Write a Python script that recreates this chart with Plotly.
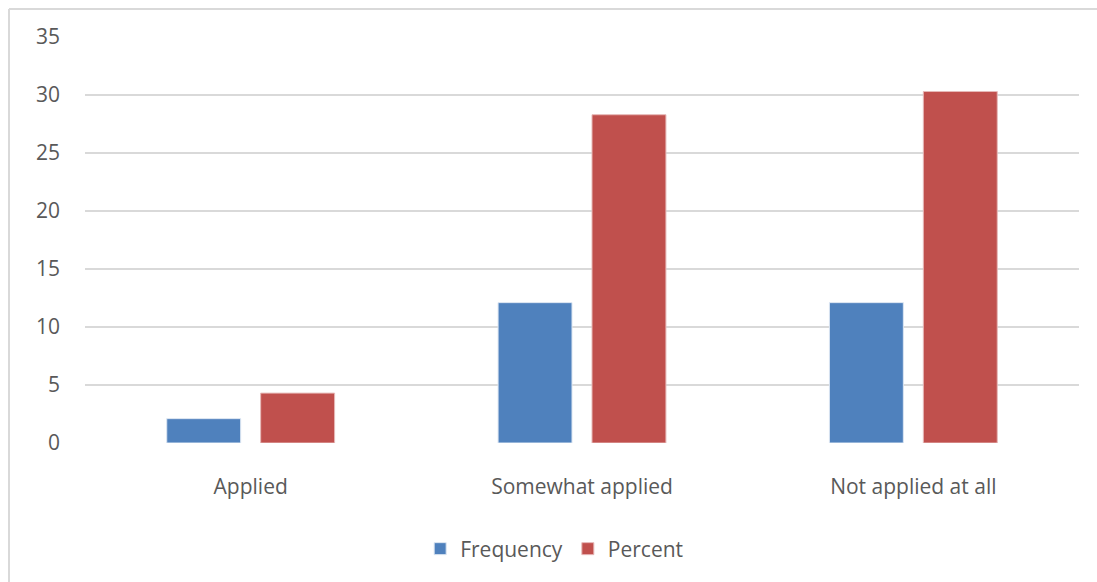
import plotly.graph_objects as go

categories = ["Applied", "Somewhat applied", "Not applied at all"]
frequency = [2.1, 12.1, 12.1]
percent = [4.3, 28.3, 30.3]
y_ticks = [0, 5, 10, 15, 20, 25, 30, 35]

BLUE = "#4f81bd"
RED = "#c0504d"
TEXT = "#595959"
GRID = "#d9d9d9"
FONT = "Open Sans"

W, H = 1097, 582
L, R, T, B = 85, 18, 37, 139

fig = go.Figure()
fig.add_trace(go.Bar(name="Frequency", x=categories, y=frequency,
                     marker=dict(color=BLUE, line=dict(color="#dce6f2", width=1))))
fig.add_trace(go.Bar(name="Percent", x=categories, y=percent,
                     marker=dict(color=RED, line=dict(color="#e6b9b8", width=1))))

pw = W - L - R
ph = H - T - B


def px_x(x):
    return (x - L) / pw


def px_y(y):
    return (H - B - y) / ph


# chart frame (top and left edges)
shapes = [
    dict(type="line", xref="paper", yref="paper", x0=px_x(9), x1=px_x(1100),
         y0=px_y(9), y1=px_y(9), line=dict(color=GRID, width=2)),
    dict(type="line", xref="paper", yref="paper", x0=px_x(9), x1=px_x(9),
         y0=px_y(9), y1=px_y(585), line=dict(color=GRID, width=2)),
]

fig.update_layout(
    width=W, height=H,
    margin=dict(l=L, r=R, t=T, b=B),
    paper_bgcolor="white", plot_bgcolor="white",
    barmode="group", bargap=0.433, bargroupgap=0.213,
    font=dict(family=FONT, size=21, color=TEXT),
    showlegend=True,
    legend=dict(orientation="h", x=0.472, xanchor="center", y=px_y(549),
                yanchor="middle", font=dict(family=FONT, size=21, color=TEXT),
                itemwidth=30, tracegroupgap=0),
    shapes=shapes,
    xaxis=dict(showgrid=False, showline=False, ticks="", zeroline=False,
               tickfont=dict(family=FONT, size=21, color=TEXT),
               ticklabelstandoff=29),
    yaxis=dict(range=[0, 35], tickvals=y_ticks, showgrid=True, gridcolor=GRID,
               gridwidth=2, zeroline=False, showline=False, ticks="",
               tickfont=dict(family=FONT, size=21, color=TEXT),
               ticklabelstandoff=24),
)

fig.write_html("out.html")
